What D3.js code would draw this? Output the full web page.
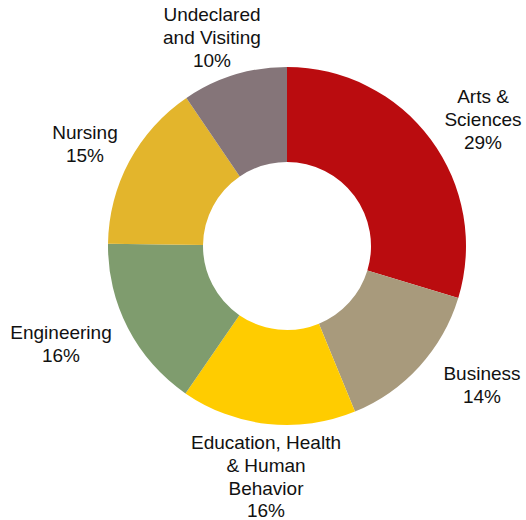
<!DOCTYPE html>
<html><head><meta charset="utf-8">
<script src="https://cdn.jsdelivr.net/npm/d3@7"></script>
<style>body{margin:0;background:#fff}svg{display:block}</style>
</head><body>
<script>
const categories = ["Arts & Sciences","Business","Education, Health & Human Behavior","Engineering","Nursing","Undeclared and Visiting"];
const values = [29.7,14.1,15.8,15.6,15.3,9.5];
const colors = ["#BA0C0F","#A89A7C","#FFCC00","#7F9C6E","#E3B52C","#857579"];
const labelLines = [["Arts &","Sciences","29%"],["Business","14%"],["Education, Health","& Human","Behavior","16%"],["Engineering","16%"],["Nursing","15%"],["Undeclared","and Visiting","10%"]];
const labelPos = [[483,103],[482,380],[266,449],[61,339],[85,139],[212,21]];

const W=526,H=520,cx=287,cy=246,R=179,r=84;
const svg=d3.select("body").append("svg").attr("width",W).attr("height",H);
const pie=d3.pie().sort(null).value(d=>d)(values);
const arc=d3.arc().innerRadius(r).outerRadius(R);
const g=svg.append("g").attr("transform",`translate(${cx},${cy})`);
g.selectAll("path").data(pie).join("path").attr("d",arc).attr("fill",(d,i)=>colors[i]);
const lg=svg.append("g").attr("font-family","Liberation Sans, Arial, sans-serif").attr("font-size",19).attr("fill","#111").attr("text-anchor","middle");
labelLines.forEach((lines,i)=>{
  const t=lg.append("text").attr("x",labelPos[i][0]).attr("y",labelPos[i][1]);
  lines.forEach((l,j)=>t.append("tspan").attr("x",labelPos[i][0]).attr("dy",j?22.8:0).text(l));
});
</script>
</body></html>
